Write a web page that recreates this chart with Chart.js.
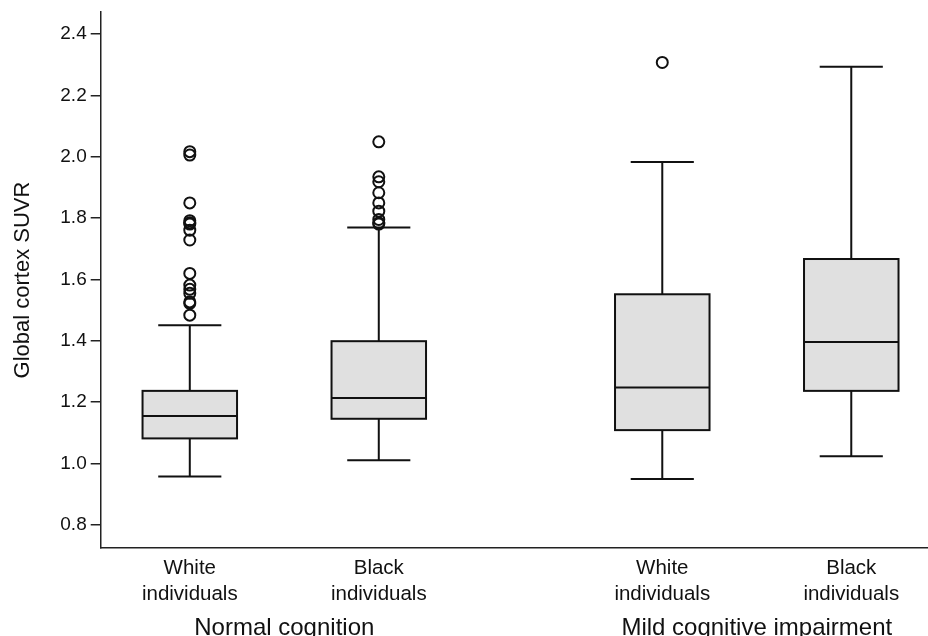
<!DOCTYPE html>
<html>
<head>
<meta charset="utf-8">
<script src="https://cdn.jsdelivr.net/npm/chart.js@4"></script>
<style>
  html, body { margin: 0; padding: 0; background: #fff; overflow: hidden; }
  #wrap { width: 928px; height: 636px; }
</style>
</head>
<body>
<div id="wrap"><canvas id="boxChart"></canvas></div>
<script>
// ---- DATA ----
const categories = [['White', 'individuals'], ['Black', 'individuals'], ['White', 'individuals'], ['Black', 'individuals']];
const positions = [1, 2, 3.5, 4.5];
const groups = ['Normal cognition', 'Mild cognitive impairment'];
const groupCenters = [1.5, 4.0];

const whiskerLow  = [0.958, 1.011, 0.950, 1.024];
const q1          = [1.082, 1.146, 1.109, 1.237];
const median      = [1.155, 1.214, 1.248, 1.396];
const q3          = [1.237, 1.399, 1.552, 1.667];
const whiskerHigh = [1.451, 1.770, 1.983, 2.294];

const outliers = [
  [2.017, 2.006, 1.850, 1.792, 1.785, 1.781, 1.761, 1.729, 1.620, 1.582, 1.568, 1.555, 1.527, 1.522, 1.484],
  [2.049, 1.935, 1.919, 1.883, 1.850, 1.823, 1.796, 1.785, 1.781],
  [2.308],
  []
];

const yTicks = [0.8, 1.0, 1.2, 1.4, 1.6, 1.8, 2.0, 2.2, 2.4];

const FONT = "'Liberation Sans', Arial, sans-serif";

// ---- BOX PLOT DRAWING (uses chart scales) ----
const boxPlugin = {
  id: 'boxes',
  beforeDatasetsDraw(chart) {
    const {ctx, scales: {x, y}} = chart;
    const unit = x.getPixelForValue(1) - x.getPixelForValue(0);
    const halfBox = unit * 0.25;
    const halfCap = unit * 0.167;
    ctx.save();
    ctx.strokeStyle = '#111';
    ctx.lineWidth = 2;
    positions.forEach((p, i) => {
      const cx = x.getPixelForValue(p);
      const yLo = y.getPixelForValue(whiskerLow[i]);
      const yQ1 = y.getPixelForValue(q1[i]);
      const yMed = y.getPixelForValue(median[i]);
      const yQ3 = y.getPixelForValue(q3[i]);
      const yHi = y.getPixelForValue(whiskerHigh[i]);
      // whiskers
      ctx.beginPath();
      ctx.moveTo(cx, yQ1); ctx.lineTo(cx, yLo);
      ctx.moveTo(cx - halfCap, yLo); ctx.lineTo(cx + halfCap, yLo);
      ctx.moveTo(cx, yQ3); ctx.lineTo(cx, yHi);
      ctx.moveTo(cx - halfCap, yHi); ctx.lineTo(cx + halfCap, yHi);
      ctx.stroke();
      // box
      ctx.fillStyle = '#e0e0e0';
      ctx.fillRect(cx - halfBox, yQ3, halfBox * 2, yQ1 - yQ3);
      ctx.strokeRect(cx - halfBox, yQ3, halfBox * 2, yQ1 - yQ3);
      // median
      ctx.beginPath();
      ctx.moveTo(cx - halfBox, yMed); ctx.lineTo(cx + halfBox, yMed);
      ctx.stroke();
    });
    ctx.restore();
  },
  afterDraw(chart) {
    const {ctx, scales: {x}} = chart;
    ctx.save();
    ctx.fillStyle = '#111';
    ctx.font = '24px ' + FONT;
    ctx.textAlign = 'center';
    ctx.textBaseline = 'alphabetic';
    groups.forEach((g, i) => {
      ctx.fillText(g, x.getPixelForValue(groupCenters[i]), 635);
    });
    ctx.restore();
  }
};

// ---- CHART ----
new Chart(document.getElementById('boxChart'), {
  type: 'scatter',
  data: {
    datasets: outliers.map((vals, i) => ({
      label: 'outliers ' + (i + 1),
      data: vals.map(v => ({x: positions[i], y: v})),
      pointRadius: 5.5,
      pointHoverRadius: 5.5,
      pointBorderWidth: 2,
      borderColor: '#111',
      backgroundColor: 'rgba(0,0,0,0)'
    }))
  },
  options: {
    responsive: true,
    maintainAspectRatio: false,
    animation: false,
    layout: { autoPadding: false, padding: { top: 12, right: 0, bottom: 0, left: 0 } },
    plugins: { legend: { display: false }, tooltip: { enabled: false } },
    scales: {
      x: {
        type: 'linear',
        min: 0.5286,
        max: 4.906,
        afterBuildTicks: axis => { axis.ticks = positions.map(v => ({value: v})); },
        afterFit: s => { s.height = 88; s.paddingLeft = 0; s.paddingRight = 0; },
        grid: { display: false, drawTicks: false },
        border: { display: true, color: '#222', width: 1.5 },
        ticks: {
          padding: 8,
          maxRotation: 0,
          autoSkip: false,
          color: '#111',
          font: { family: FONT, size: 20.5, lineHeight: 1.25 },
          callback: (v, i) => categories[i]
        }
      },
      y: {
        min: 0.7246,
        max: 2.4725,
        afterBuildTicks: axis => { axis.ticks = yTicks.map(v => ({value: v})); },
        afterFit: s => { s.width = 100.7; s.paddingTop = 0; s.paddingBottom = 0; },
        grid: { display: true, drawOnChartArea: false, drawTicks: true, tickLength: 10, color: '#222', lineWidth: 1.5 },
        border: { display: true, color: '#222', width: 1.5 },
        ticks: {
          padding: 4,
          color: '#111',
          font: { family: FONT, size: 19 },
          callback: v => v.toFixed(1)
        },
        title: {
          display: true,
          text: 'Global cortex SUVR',
          color: '#111',
          font: { family: FONT, size: 22 },
          padding: { top: 10, bottom: 0 }
        }
      }
    }
  },
  plugins: [boxPlugin]
});
</script>
</body>
</html>
